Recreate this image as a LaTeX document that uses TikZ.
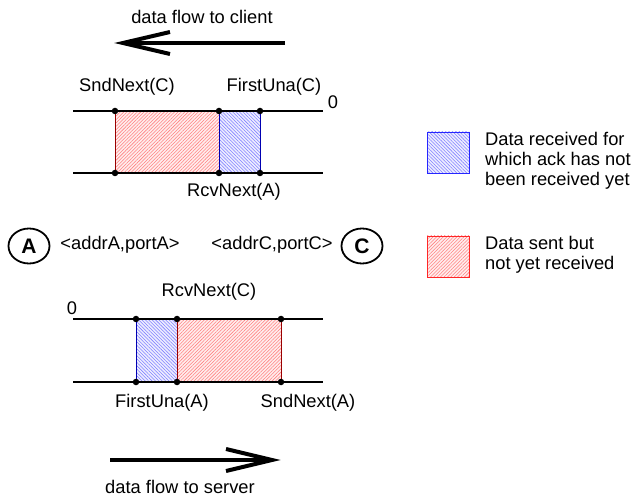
\documentclass[tikz,border=0pt]{standalone}
\usepackage{fontspec}
\setmainfont{Liberation Sans}
\usetikzlibrary{patterns.meta,shapes.geometric}

\tikzset{
  lbl/.style={font=\fontsize{18.3}{20}\selectfont, inner sep=0pt},
  track/.style={line width=1.8pt},
  dot/.style={circle, fill=black, minimum size=6.5pt, inner sep=0pt},
  sentbox/.style={draw=red!60!black, line width=0.8pt,
    preaction={fill=red!7},
    pattern={Lines[angle=45,distance=2.4pt,line width=0.55pt]}, pattern color=red!50},
  ackbox/.style={draw=blue!70!black, line width=0.8pt,
    preaction={fill=blue!7},
    pattern={Lines[angle=-45,distance=2.4pt,line width=0.55pt]}, pattern color=blue!50},
  legsent/.style={sentbox, draw=red!85},
  legack/.style={ackbox, draw=blue!85},
  host/.style={ellipse, draw, line width=1.8pt, minimum width=41pt, minimum height=35pt,
    inner sep=0pt, font=\fontsize{21}{21}\selectfont\bfseries},
  flow/.style={line width=4pt},
}

\begin{document}
\begin{tikzpicture}[x=1pt, y=-1pt]
\useasboundingbox (0,0) rectangle (635,497);

% ---- data flow to client ----
\node[lbl] (fcl) at (202,17) {data flow to client};
\coordinate (cs) at (285,43);
\coordinate (ct) at (123,43);
\coordinate (cu) at (170,32);
\coordinate (cd) at (170,54);
\draw[flow] (cs) -- (ct);
\draw[flow, line join=miter] (cu) -- (ct) -- (cd);

% ---- upper sequence space (C sends to A) ----
\path[sentbox] (115,111) rectangle (219,173);
\path[ackbox] (219,111) rectangle (260,173);
\coordinate (ul) at (73,111);  \coordinate (ur) at (323,111);
\coordinate (ll) at (73,173);  \coordinate (lr) at (323,173);
\draw[track] (ul) -- (ur);
\draw[track] (ll) -- (lr);
\node[dot] (u1) at (115,111) {}; \node[dot] (u2) at (219,111) {}; \node[dot] (u3) at (260,111) {};
\node[dot] (l1) at (115,173) {}; \node[dot] (l2) at (219,173) {}; \node[dot] (l3) at (260,173) {};
\node[lbl] (sndc) at (127,87) {SndNext(C)};
\node[lbl] (fuc) at (274,87) {FirstUna(C)};
\node[lbl] (z1) at (333,102) {0};
\node[lbl] (rcva) at (234,192) {RcvNext(A)};

% ---- endpoints ----
\node[host] (A) at (29,246) {A};
\node[host] (C) at (362,246) {C};
\node[lbl] (adra) at (120,245) {<addrA,portA>};
\node[lbl] (adrc) at (272,245) {<addrC,portC>};

% ---- lower sequence space (A sends to C) ----
\path[ackbox] (136,319) rectangle (177,382);
\path[sentbox] (177,319) rectangle (281,382);
\coordinate (bul) at (73,319);  \coordinate (bur) at (323,319);
\coordinate (bll) at (73,382);  \coordinate (blr) at (323,382);
\draw[track] (bul) -- (bur);
\draw[track] (bll) -- (blr);
\node[dot] (v1) at (136,319) {}; \node[dot] (v2) at (177,319) {}; \node[dot] (v3) at (281,319) {};
\node[dot] (w1) at (136,382) {}; \node[dot] (w2) at (177,382) {}; \node[dot] (w3) at (281,382) {};
\node[lbl] (z2) at (72,308) {0};
\node[lbl] (rcvc) at (209,292) {RcvNext(C)};
\node[lbl] (fua) at (162,403) {FirstUna(A)};
\node[lbl] (snda) at (308,403) {SndNext(A)};

% ---- data flow to server ----
\coordinate (ss) at (110,460);
\coordinate (st) at (272,460);
\coordinate (su) at (226,449);
\coordinate (sd) at (226,471);
\draw[flow] (ss) -- (st);
\draw[flow, line join=miter] (su) -- (st) -- (sd);
\node[lbl] (fsv) at (180,487) {data flow to server};

% ---- legend ----
\path[legack] (427,132) rectangle (469,173);
\node[lbl, anchor=west, align=left] (legA) at (485,161)
  {Data received for\\which ack has not\\been received yet};
\path[legsent] (427,236) rectangle (469,277);
\node[lbl, anchor=west, align=left] (legS) at (485,255)
  {Data sent but\\not yet received};
\end{tikzpicture}
\end{document}
